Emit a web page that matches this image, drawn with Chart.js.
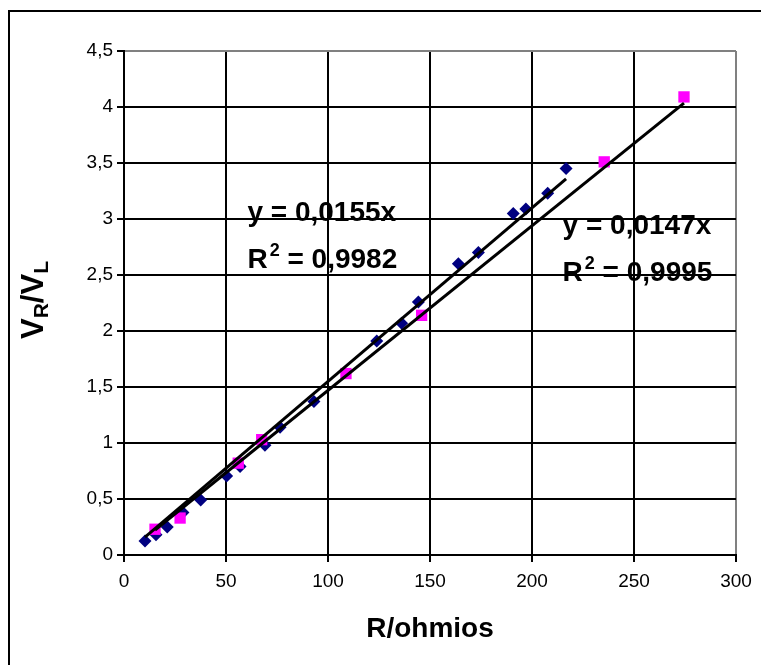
<!DOCTYPE html>
<html>
<head>
<meta charset="utf-8">
<script src="https://cdn.jsdelivr.net/npm/chart.js@4.4.1/dist/chart.umd.min.js"></script>
<style>
  html, body { margin: 0; padding: 0; background: #fff; }
  canvas { display: block; }
</style>
</head>
<body>
<canvas id="chart" width="761" height="665"></canvas>
<script>
const navyR = [10.3, 15.7, 21.2, 28.9, 37.6, 50.3, 56.9, 69.1, 76.5, 93.1, 123.9, 136.1, 144.3, 163.9, 173.7, 190.8, 197, 207.7, 216.7];
const navyV = [0.125, 0.18, 0.25, 0.38, 0.49, 0.705, 0.79, 0.98, 1.14, 1.37, 1.91, 2.07, 2.26, 2.6, 2.7, 3.05, 3.09, 3.23, 3.45];
const pinkR = [15.2, 27.5, 56, 67.5, 108.8, 145.9, 235.4, 274.5];
const pinkV = [0.23, 0.33, 0.82, 1.03, 1.62, 2.14, 3.51, 4.09];

// trendlines through the origin (as labelled on the chart)
const slopes = [0.0155, 0.0147];
const slopeLabels = ['0,0155', '0,0147'];
const r2Labels = ['0,9982', '0,9995'];

const xTitle = 'R/ohmios';

const FONT = 'Arial, "Liberation Sans", sans-serif';

function toPoints(xs, ys) {
    return xs.map((v, i) => ({ x: v, y: ys[i] }));
}

function trend(xs, k) {
    const lo = Math.min(...xs);
    const hi = Math.max(...xs);
    return [{ x: lo, y: k * lo }, { x: hi, y: k * hi }];
}

function drawR2(ctx, x0, y0, value) {
    ctx.font = 'bold 28px ' + FONT;
    ctx.fillText('R', x0, y0);
    let w = ctx.measureText('R').width + 2;
    ctx.font = 'bold 18px ' + FONT;
    ctx.fillText('2', x0 + w, y0 - 12);
    w += ctx.measureText('2').width;
    ctx.font = 'bold 28px ' + FONT;
    ctx.fillText(' = ' + value, x0 + w, y0);
}

const overlay = {
    id: 'overlay',
    beforeDraw(chart) {
        const ctx = chart.ctx;
        ctx.save();
        ctx.strokeStyle = '#000';
        ctx.lineWidth = 2;
        ctx.strokeRect(9, 11, 820, 720);
        ctx.restore();
    },
    afterDraw(chart) {
        const { ctx, chartArea, scales } = chart;
        const x = scales.x, y = scales.y;
        ctx.save();
        ctx.fillStyle = '#000';
        ctx.textBaseline = 'alphabetic';
        ctx.textAlign = 'left';

        // equation labels
        const anchors = [[60.5, 2.98], [215, 2.87]];
        anchors.forEach((a, i) => {
            const px = x.getPixelForValue(a[0]);
            const py = y.getPixelForValue(a[1]);
            ctx.font = 'bold 28px ' + FONT;
            ctx.fillText('y = ' + slopeLabels[i] + 'x', px, py);
            drawR2(ctx, px, py + 47, r2Labels[i]);
        });

        // x title
        ctx.font = 'bold 28px ' + FONT;
        ctx.textAlign = 'center';
        ctx.textBaseline = 'middle';
        ctx.fillText(xTitle, (chartArea.left + chartArea.right) / 2, 629);

        // y title with subscripts
        const parts = [['V', 31, 0], ['R', 21, 8], ['/', 31, 0], ['V', 31, 0], ['L', 21, 8]];
        let total = 0;
        parts.forEach(p => { ctx.font = 'bold ' + p[1] + 'px ' + FONT; total += ctx.measureText(p[0]).width; });
        ctx.translate(34, (chartArea.top + chartArea.bottom) / 2 - 3);
        ctx.rotate(-Math.PI / 2);
        ctx.textAlign = 'left';
        let cx = -total / 2;
        parts.forEach(p => {
            ctx.font = 'bold ' + p[1] + 'px ' + FONT;
            ctx.fillText(p[0], cx, p[2]);
            cx += ctx.measureText(p[0]).width;
        });
        ctx.restore();
    }
};

const ctx = document.getElementById('chart').getContext('2d');
new Chart(ctx, {
    type: 'scatter',
    data: {
        datasets: [
            {
                type: 'line',
                data: trend(navyR, slopes[0]),
                borderColor: '#000',
                borderWidth: 3,
                pointRadius: 0,
                fill: false,
                order: 0
            },
            {
                type: 'line',
                data: trend(pinkR, slopes[1]),
                borderColor: '#000',
                borderWidth: 3,
                pointRadius: 0,
                fill: false,
                order: 0
            },
            {
                data: toPoints(pinkR, pinkV),
                pointStyle: 'rect',
                pointRadius: 8,
                backgroundColor: '#ff00ff',
                borderColor: '#ff00ff',
                borderWidth: 0,
                order: 1
            },
            {
                data: toPoints(navyR, navyV),
                pointStyle: 'rectRot',
                pointRadius: 6.5,
                backgroundColor: '#000080',
                borderColor: '#000080',
                borderWidth: 0,
                order: 2
            }
        ]
    },
    options: {
        responsive: false,
        animation: false,
        devicePixelRatio: 1,
        layout: {
            padding: { top: 51, right: 25, left: 0, bottom: 0 }
        },
        plugins: {
            legend: { display: false },
            tooltip: { enabled: false }
        },
        scales: {
            x: {
                type: 'linear',
                min: 0,
                max: 300,
                afterFit: (s) => { s.height = 110; },
                ticks: {
                    stepSize: 50,
                    padding: 8,
                    color: '#000',
                    maxRotation: 0,
                    font: { family: FONT, size: 19 }
                },
                grid: {
                    color: (c) => (c.tick && c.tick.value === 300) ? '#808080' : '#000',
                    lineWidth: 2,
                    tickColor: '#000',
                    tickLength: 7
                },
                border: { color: '#000', width: 2 }
            },
            y: {
                min: 0,
                max: 4.5,
                afterFit: (s) => { s.width = 124; },
                ticks: {
                    stepSize: 0.5,
                    padding: 4,
                    color: '#000',
                    font: { family: FONT, size: 19 },
                    callback: (v) => String(v).replace('.', ',')
                },
                grid: {
                    color: (c) => (c.tick && c.tick.value === 4.5) ? '#808080' : '#000',
                    lineWidth: 2,
                    tickColor: '#000',
                    tickLength: 7
                },
                border: { color: '#000', width: 2 }
            }
        }
    },
    plugins: [overlay]
});
</script>
</body>
</html>
